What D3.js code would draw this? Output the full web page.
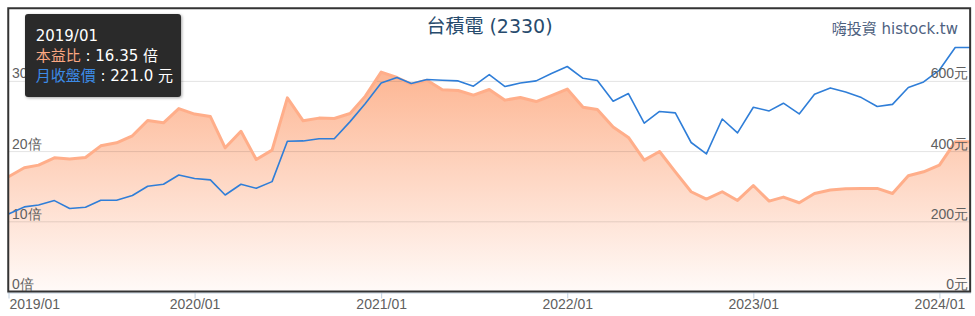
<!DOCTYPE html>
<html><head><meta charset="utf-8">
<script src="https://cdn.jsdelivr.net/npm/d3@7"></script>
<style>
body{margin:0;background:#fff;}
svg{display:block;font-family:"DejaVu Sans","Noto Sans CJK TC",sans-serif;}
</style></head><body>
<svg id="chart" width="975" height="316"></svg>
<script>
const months = ["2019/01","2019/02","2019/03","2019/04","2019/05","2019/06","2019/07","2019/08","2019/09","2019/10","2019/11","2019/12",
"2020/01","2020/02","2020/03","2020/04","2020/05","2020/06","2020/07","2020/08","2020/09","2020/10","2020/11","2020/12",
"2021/01","2021/02","2021/03","2021/04","2021/05","2021/06","2021/07","2021/08","2021/09","2021/10","2021/11","2021/12",
"2022/01","2022/02","2022/03","2022/04","2022/05","2022/06","2022/07","2022/08","2022/09","2022/10","2022/11","2022/12",
"2023/01","2023/02","2023/03","2023/04","2023/05","2023/06","2023/07","2023/08","2023/09","2023/10","2023/11","2023/12",
"2024/01","2024/02","2024/03"];
const peRatio = [16.35,17.62,18.00,19.05,18.86,19.09,20.75,21.18,22.18,24.36,24.03,26.06,
25.27,24.92,20.47,22.82,18.80,20.14,27.59,24.31,24.70,24.64,25.35,27.83,
31.25,30.48,29.54,30.10,28.73,28.63,27.97,28.77,27.26,27.63,27.06,27.91,
28.83,26.26,25.92,23.42,21.94,18.72,19.94,17.05,14.21,13.17,14.21,12.97,
15.10,12.88,13.45,12.64,13.96,14.45,14.63,14.68,14.68,13.96,16.48,17.05,
18.00,21.32,21.32];
const monthlyClose = [221.0,241.0,246.5,259.0,236.5,240.0,260.0,260.0,273.5,300.0,305.5,332.0,
322.0,318.0,275.0,305.5,294.0,313.0,428.0,429.0,435.0,435.0,484.0,535.5,
594.0,609.5,592.5,604.0,602.0,600.0,585.0,618.0,584.0,594.0,600.0,621.0,
641.0,607.5,601.0,542.0,564.0,479.5,513.0,509.0,424.5,392.0,491.5,452.0,
525.0,514.5,536.5,506.0,562.0,580.0,568.5,552.5,527.0,533.0,581.0,597.0,
631.0,695.0,695.0];
const xTickLabels = ["2019/01","2020/01","2021/01","2022/01","2023/01","2024/01"];
const peTicks = [0,10,20,30];
const priceTicks = [0,200,400,600];
const titleText = "台積電 (2330)";
const creditText = "嗨投資 histock.tw";
const peName = "本益比", peUnit = "倍";
const priceName = "月收盤價", priceUnit = "元";
const tooltipIndex = 0;

const parse = d3.timeParse("%Y/%m");
const data = months.map((m,i)=>({date:parse(m), pe:peRatio[i], price:monthlyClose[i]}));

const L = 8.5, R = 970, T = 10.7, B = 291.5;
const svg = d3.select("#chart");
const defs = svg.append("defs");
const grad = defs.append("linearGradient").attr("id","peGrad").attr("x1",0).attr("y1",0).attr("x2",0).attr("y2",1);
grad.append("stop").attr("offset","0%").attr("stop-color","#fdb693");
grad.append("stop").attr("offset","100%").attr("stop-color","#fffaf8");
const sh = defs.append("filter").attr("id","shadow").attr("x","-10%").attr("y","-10%").attr("width","130%").attr("height","130%");
sh.append("feDropShadow").attr("dx",1).attr("dy",1).attr("stdDeviation",1.5).attr("flood-color","#000").attr("flood-opacity",0.35);

const x = d3.scaleTime().domain(d3.extent(data,d=>d.date)).range([L,R]);
const yPE = d3.scaleLinear().domain([0,40]).range([B,T]);
const yPrice = d3.scaleLinear().domain([0,800]).range([B,T]);

// area + line (PE)
svg.append("path").datum(data)
  .attr("d", d3.area().x(d=>x(d.date)).y0(yPE(0)).y1(d=>yPE(d.pe)))
  .attr("fill","url(#peGrad)");

// grid + left labels
const gl = svg.append("g").attr("transform",`translate(${L},0)`)
  .call(d3.axisRight(yPE).tickValues(peTicks).tickSize(R-L).tickFormat(d=>d+peUnit));
gl.select(".domain").remove();
gl.selectAll(".tick line").attr("stroke","rgba(0,0,0,0.11)").attr("stroke-width",1)
  .filter(d=>d===0).remove();
gl.selectAll(".tick text").attr("x",3.5).attr("y",-3).attr("dy",null)
  .attr("text-anchor","start").attr("fill","#606060").style("font-size","14px");

svg.append("path").datum(data)
  .attr("d", d3.line().x(d=>x(d.date)).y(d=>yPE(d.pe)))
  .attr("fill","none").attr("stroke","#ffae8a").attr("stroke-width",3).attr("stroke-linejoin","round");

svg.append("path").datum(data)
  .attr("d", d3.line().x(d=>x(d.date)).y(d=>yPrice(d.price)))
  .attr("fill","none").attr("stroke","#2f7ed8").attr("stroke-width",1.6).attr("stroke-linejoin","round");

// right labels
const gr = svg.append("g").attr("transform",`translate(968,0)`)
  .call(d3.axisLeft(yPrice).tickValues(priceTicks).tickSize(0).tickFormat(d=>d+priceUnit));
gr.select(".domain").remove();
gr.selectAll(".tick text").attr("x",0).attr("y",-3).attr("dy",null)
  .attr("text-anchor","end").attr("fill","#606060").style("font-size","14px");

// x axis
const tickDates = xTickLabels.map(parse);
const gx = svg.append("g").attr("transform",`translate(0,292.5)`)
  .call(d3.axisBottom(x).tickValues(tickDates).tickSize(6).tickSizeOuter(0).tickFormat(d3.timeFormat("%Y/%m")));
gx.select(".domain").attr("stroke","#c0d0e0").attr("d",`M${L-1},0.5H${R+1}`);
gx.selectAll(".tick line").attr("stroke","#c0d0e0");
gx.selectAll(".tick text").attr("y",7).attr("fill","#606060").style("font-size","14px")
  .each(function(d){
    const w = this.getComputedTextLength();
    const cx = x(d);
    const minC = 9 + w/2, maxC = 970 - w/2;
    const c = Math.max(minC, Math.min(maxC, cx));
    d3.select(this).attr("x", c - cx);
  });

// border
svg.append("rect").attr("x",8.25).attr("y",8.25).attr("width",961.9).attr("height",283.25)
  .attr("fill","none").attr("stroke","#333").attr("stroke-width",2);

// title & credits
svg.append("text").attr("x",489.5).attr("y",33).attr("text-anchor","middle")
  .attr("fill","#274b6d").style("font-size","19px").text(titleText);
svg.append("text").attr("x",958).attr("y",34).attr("text-anchor","end")
  .attr("fill","#4e6180").style("font-size","15px").text(creditText);

// tooltip
const tp = data[tooltipIndex];
const tt = svg.append("g").attr("transform","translate(25,14)");
tt.append("rect").attr("width",156).attr("height",83).attr("rx",3).attr("fill","#2b2b2b").attr("filter","url(#shadow)");
tt.append("text").attr("x",10.7).attr("y",27).attr("fill","#fff").style("font-size","15px").text(months[tooltipIndex]);
const t2 = tt.append("text").attr("x",10.7).attr("y",47).style("font-size","15px");
t2.append("tspan").attr("fill","#fca883").text(peName);
t2.append("tspan").attr("fill","#fff").text(" : "+d3.format(".2f")(tp.pe)+" "+peUnit);
const t3 = tt.append("text").attr("x",10.7).attr("y",67).style("font-size","15px");
t3.append("tspan").attr("fill","#3c8ae6").text(priceName);
t3.append("tspan").attr("fill","#fff").text(" : "+d3.format(".1f")(tp.price)+" "+priceUnit);
</script>
</body></html>
